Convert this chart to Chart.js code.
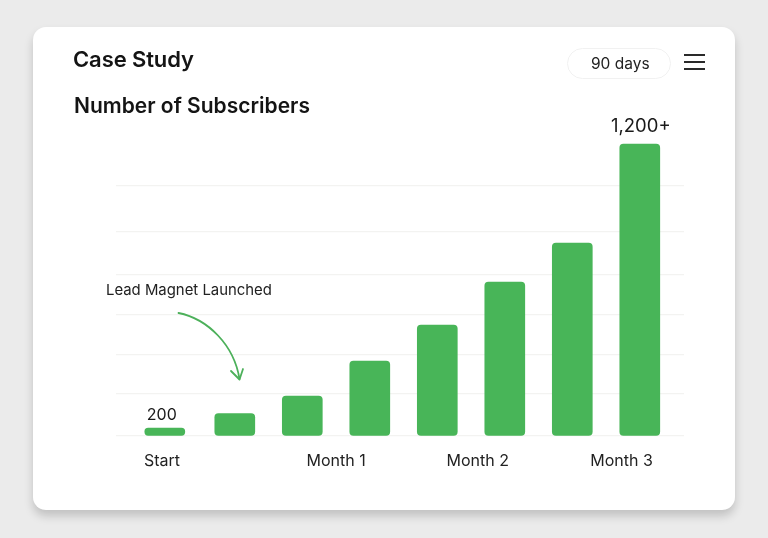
<!DOCTYPE html>
<html>
<head>
<meta charset="utf-8">
<script src="https://cdn.jsdelivr.net/npm/chart.js@4"></script>
<style>
html,body{margin:0;padding:0;width:768px;height:538px;overflow:hidden;background:#ebebeb;font-family:Inter,"Liberation Sans",sans-serif;color:#141414}
#card{position:absolute;left:33px;top:27px;width:702px;height:483px;background:#fff;border-radius:13px;box-shadow:0 6px 10px rgba(0,0,0,.18)}
#wrap{position:absolute;left:0;top:0;width:768px;height:538px}
.t{position:absolute;white-space:nowrap;line-height:1}
#pill{position:absolute;left:567px;top:48px;width:102px;height:29px;border:1px solid #f1f1f1;border-radius:16px}
.bar{position:absolute;left:684px;width:21px;height:2px;background:#2a2a2a}
svg{position:absolute;left:0;top:0}
</style>
</head>
<body>
<div id="card"></div>
<div id="wrap"><canvas id="c" width="768" height="538"></canvas></div>
<div class="t" style="left:73px;top:48px;font-size:22px;font-weight:600;letter-spacing:-0.1px">Case Study</div>
<div class="t" style="left:74px;top:95px;font-size:21px;font-weight:600">Number of Subscribers</div>
<div id="pill"></div>
<div class="t" style="left:591px;top:56px;font-size:15.5px;color:#222">90 days</div>
<div class="bar" style="top:54px"></div><div class="bar" style="top:61px"></div><div class="bar" style="top:68px"></div>
<div class="t" style="left:106px;top:283px;font-size:14.9px;color:#222">Lead Magnet Launched</div>
<svg width="768" height="538" fill="none" stroke="#4cb05a" stroke-width="1.8" stroke-linecap="round" stroke-linejoin="round">
<path d="M178.5 313 C208 319 234 345 239.5 379"/>
<path d="M231 371 L239.5 379.5 L243 369"/>
</svg>
<script>
const barSlots=[-0.037,1,2,3,4,5,6,7];
const subscribers=[33,92,164,308,456,633,793,1200];
const pointLabels=["200","","","","","","","1,200+"];
const tickNames=["Start","Month 1","Month 2","Month 3"];
const tickSlots=[-0.079,2.5,4.6,6.73];
const gridValues=[0,173,333,497,662,842,1031];
const GREEN="#48b558",INK="#1a1a1a";
const labelPlugin={
  id:"barLabels",
  afterDatasetsDraw(chart){
    const {ctx}=chart;
    const bars=chart.getDatasetMeta(0).data;
    ctx.save();
    ctx.fillStyle=INK;ctx.textAlign="center";ctx.textBaseline="alphabetic";
    pointLabels.forEach((t,i)=>{
      if(!t)return;
      const big=t.length>3;
      ctx.font=(big?"18.5px":"16px")+" Inter";
      ctx.fillText(t,bars[i].x+(big?1:-3),bars[i].y-(big?12:8));
    });
    ctx.restore();
  }
};
new Chart(document.getElementById("c"),{
  type:"bar",
  data:{datasets:[{
    data:barSlots.map((x,i)=>({x,y:subscribers[i]})),
    backgroundColor:GREEN,barThickness:40,borderRadius:4,borderSkipped:false
  }]},
  options:{
    responsive:false,animation:false,devicePixelRatio:1,
    layout:{padding:{left:116,right:84,top:110,bottom:60}},
    plugins:{legend:{display:false},tooltip:{enabled:false}},
    scales:{
      x:{type:"linear",offset:false,min:-0.76,max:7.655,
        afterBuildTicks(s){s.ticks=tickSlots.map(value=>({value}));},
        afterFit(s){s.height=42;},
        grid:{display:false},border:{display:false},
        ticks:{autoSkip:false,maxRotation:0,padding:8,color:"#222",font:{family:"Inter",size:16},
          callback(v){const i=tickSlots.indexOf(v);return i<0?"":tickNames[i];}}
      },
      y:{min:0,max:1340,
        afterBuildTicks(s){s.ticks=gridValues.map(value=>({value}));},
        afterFit(s){s.width=0;},
        grid:{color:"#f3f3f1",lineWidth:1.3,drawTicks:false},border:{display:false},
        ticks:{display:false}
      }
    }
  },
  plugins:[labelPlugin]
});
</script>
</body>
</html>
